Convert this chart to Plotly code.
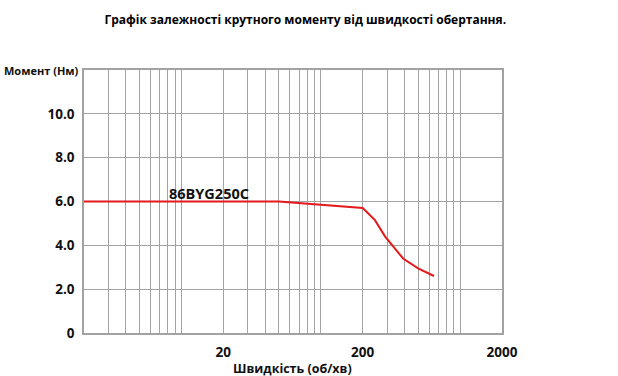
import plotly.graph_objects as go

# Data
speed = [2, 50, 200, 245, 290, 390, 500, 650]          # об/хв
torque = [6.0, 6.0, 5.7, 5.15, 4.4, 3.4, 2.95, 2.6]    # Нм
series_name = "86BYG250C"

x_tick_vals = [20, 200, 2000]
x_tick_text = ["20", "200", "2000"]
y_tick_vals = [0, 2, 4, 6, 8, 10]
y_tick_text = ["0", "2.0", "4.0", "6.0", "8.0", "10.0"]

minor_vals = [m * 10 ** e for e in range(0, 4) for m in range(1, 10) if 2 <= m * 10 ** e <= 2000]

GRID = "#a2a2a2"
FONT = "Open Sans"

fig = go.Figure()
fig.add_trace(go.Scatter(
    x=speed, y=torque, mode="lines", name=series_name,
    line=dict(color="#e3191c", width=2), showlegend=False,
))

fig.add_annotation(
    x=1.201, y=6.36, xref="x", yref="y", text=series_name, showarrow=False,
    font=dict(family=FONT, size=14.5, color="#111", weight="bold"),
)

fig.update_layout(
    width=618, height=376,
    margin=dict(l=84, r=116, t=70, b=43),
    paper_bgcolor="white", plot_bgcolor="white",
    title=dict(
        text="Графік залежності крутного моменту від швидкості обертання.",
        x=0.494, xanchor="center", y=0.947, yanchor="middle",
        font=dict(family=FONT, size=12, color="#000", weight="bold"),
    ),
    xaxis=dict(
        type="log", range=[0.30103, 3.30103], automargin=False,
        tickvals=x_tick_vals, ticktext=x_tick_text,
        showgrid=True, gridcolor=GRID, gridwidth=1.4,
        minor=dict(tickvals=minor_vals, showgrid=True, gridcolor=GRID, gridwidth=1.4, ticks=""),
        showline=True, linecolor=GRID, linewidth=1.6, mirror=True,
        ticks="outside", ticklen=6, tickcolor="white", zeroline=False,
        tickfont=dict(family=FONT, size=13.5, color="#111", weight="bold"),
    ),
    yaxis=dict(
        range=[0, 12], tickvals=y_tick_vals, ticktext=y_tick_text, automargin=False,
        showgrid=True, gridcolor=GRID, gridwidth=1.4,
        showline=True, linecolor=GRID, linewidth=1.6, mirror=True,
        ticks="outside", ticklen=5, tickcolor="white", zeroline=False,
        tickfont=dict(family=FONT, size=13.5, color="#111", weight="bold"),
    ),
)

fig.add_annotation(
    x=0, y=1, xref="paper", yref="paper", xanchor="right", yanchor="middle",
    xshift=-3, text="Момент (Нм)", showarrow=False,
    font=dict(family=FONT, size=11, color="#111", weight="bold"),
)
fig.add_annotation(
    x=0.498, y=0, xref="paper", yref="paper", xanchor="center", yanchor="middle",
    yshift=-35, text="Швидкість (об/хв)", showarrow=False,
    font=dict(family=FONT, size=12.5, color="#111", weight="bold"),
)

fig.write_html("out.html")
